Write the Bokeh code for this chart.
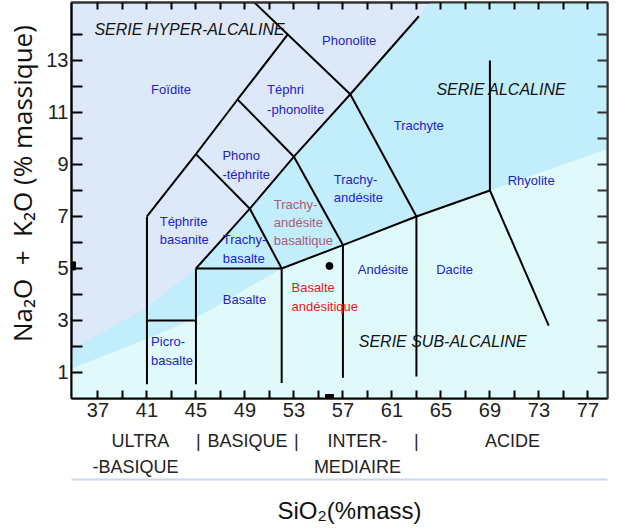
import math
from bokeh.plotting import figure
from bokeh.models import ColumnDataSource, LinearAxis, FixedTicker, Range1d
from bokeh.core.properties import value
from bokeh.embed import file_html
from bokeh.resources import INLINE

# ---------------- data ----------------
X_MIN, X_MAX = 34.84, 78.6
Y_MIN, Y_MAX = 0.0, 15.23

x_ticks = list(range(37, 78, 2))
x_tick_labels = {t: (str(t) if (t - 37) % 4 == 0 else "") for t in x_ticks}
y_ticks = list(range(1, 15))
y_tick_labels = {t: (str(t) if t % 2 == 1 else "") for t in y_ticks}

# TAS field boundaries (SiO2 %, Na2O+K2O %)
field_xs = [
    [41, 41], [41, 45, 48.4, 52.5], [48.9, 52.5, 57.6], [41, 45], [45, 45],
    [45, 49.4, 53, 57.6, 63.2], [45, 52, 57, 63, 69], [52, 52], [57, 57],
    [63, 63], [69, 69], [69, 73.8], [49.4, 52], [53, 57], [57.6, 63],
    [48.4, 53], [45, 49.4],
]
field_ys = [
    [0.55, 7], [7, 9.4, 11.5, 14], [15.62, 14, 11.7], [3, 3], [0.55, 5],
    [5, 7.3, 9.3, 11.7, 14.7], [5, 5, 5.9, 7, 8], [0.6, 5], [0.8, 5.9],
    [0.85, 7], [8, 13], [8, 2.8], [7.3, 5], [9.3, 5.9], [11.7, 7],
    [11.5, 9.3], [9.4, 7.3],
]

# series zones (background)
alcaline_x = [X_MIN, 41, 45, 49.4, 53, 57.6, 63.2, 64.5, X_MAX, X_MAX, X_MIN]
alcaline_y = [1.9, 3.5, 5, 7.3, 9.3, 11.7, 14.7, 15.4, 15.4, 0, 0]
subalc_x = [X_MIN, X_MIN, 41, 45, 52, 57, 63, 69, X_MAX, X_MAX]
subalc_y = [0, 1.15, 2.3, 3.1, 5, 5.9, 7, 8, 9.6, 0]

# rock names (lines of text) and their anchor points
rock_text = ["Foïdite", "Téphri", "-phonolite", "Phonolite", "Phono", "-téphrite",
             "Trachyte", "Trachy-", "andésite", "Rhyolite", "Téphrite", "basanite",
             "Trachy-", "basalte", "Basalte", "Andésite", "Dacite", "Picro-", "basalte"]
rock_x = [41.34, 50.81, 50.81, 55.3, 47.16, 47.16, 61.15, 56.25, 56.25, 70.45,
          42.04, 42.04, 47.19, 47.19, 47.19, 58.21, 64.61, 41.34, 41.34]
rock_y = [11.9, 11.9, 11.13, 13.75, 9.33, 8.63, 10.5, 8.42, 7.72, 8.4,
          6.8, 6.1, 6.1, 5.39, 3.82, 4.97, 4.97, 2.21, 1.47]

tab_text = ["Trachy-", "andésite", "basaltique"]
tab_x = [51.35, 51.35, 51.35]
tab_y = [7.47, 6.76, 6.06]

ba_text = ["Basalte", "andésitique"]
ba_x = [52.8, 52.8]
ba_y = [4.26, 3.53]

serie_text = ["SERIE HYPER-ALCALINE", "SERIE ALCALINE", "SERIE SUB-ALCALINE"]
serie_x = [36.71, 64.63, 58.29]
serie_y = [14.2, 11.9, 2.21]

# sample point
sample_sio2 = [55.9]
sample_alk = [5.1]

# silica classes under the axis (two rows)
class_row1_x = [40.47, 45.2, 49.2, 53.2, 58.18, 62.99, 70.84]
class_row1 = ["ULTRA", "|", "BASIQUE", "|", "INTER-", "|", "ACIDE"]
class_row2_x = [40.06, 58.18]
class_row2 = ["-BASIQUE", "MEDIAIRE"]

# ---------------- figure ----------------
p = figure(width=644, height=532, output_backend="svg", toolbar_location=None,
           x_range=Range1d(X_MIN, X_MAX), y_range=Range1d(Y_MIN, Y_MAX),
           x_axis_location=None, y_axis_location=None,
           min_border_left=71, min_border_right=37, min_border_top=2, min_border_bottom=134)
p.grid.visible = False
p.background_fill_color = "#dde8f8"
p.border_fill_color = "white"
p.outline_line_color = "#333333"
p.outline_line_width = 2

p.patch(alcaline_x, alcaline_y, fill_color="#c2edfb", line_color=None)
p.patch(subalc_x, subalc_y, fill_color="#e0fafb", line_color=None)

p.multi_line(field_xs, field_ys, line_color="black", line_width=2)

font = value("Liberation Sans")
src = ColumnDataSource(dict(x=rock_x, y=rock_y, t=rock_text))
p.text("x", "y", text="t", source=src, text_font=font, text_font_size="13px",
       text_color="#2323cc", text_align="left", text_baseline="middle")
src2 = ColumnDataSource(dict(x=tab_x, y=tab_y, t=tab_text))
p.text("x", "y", text="t", source=src2, text_font=font, text_font_size="13px",
       text_color="#b05a78", text_align="left", text_baseline="middle")
src3 = ColumnDataSource(dict(x=ba_x, y=ba_y, t=ba_text))
p.text("x", "y", text="t", source=src3, text_font=font, text_font_size="13px",
       text_color="#e01b1b", text_align="left", text_baseline="middle")
src4 = ColumnDataSource(dict(x=serie_x, y=serie_y, t=serie_text))
p.text("x", "y", text="t", source=src4, text_font=font, text_font_size="16px",
       text_font_style="italic", text_color="#111111", text_align="left", text_baseline="middle")

p.scatter(sample_sio2, sample_alk, size=7, color="black")
p.scatter(sample_sio2, [Y_MIN] * len(sample_sio2), marker="square", size=8, color="black")
p.scatter([X_MIN] * len(sample_alk), sample_alk, marker="square", size=8, color="black")

# axes
def mk_axis(ticks, overrides, size="20px", standoff=4):
    ax = LinearAxis(ticker=FixedTicker(ticks=ticks), major_label_overrides=overrides)
    ax.axis_line_color = "black"
    ax.axis_line_width = 2
    ax.major_tick_in = 9
    ax.major_tick_out = 0
    ax.major_tick_line_width = 2
    ax.major_tick_line_color = "black"
    ax.minor_tick_line_color = None
    ax.major_label_text_font = "Liberation Sans"
    ax.major_label_text_font_size = size
    ax.major_label_text_color = "#222222"
    ax.major_label_standoff = standoff
    return ax

bottom = mk_axis(x_ticks, x_tick_labels)
bottom.major_tick_in = 8
p.add_layout(bottom, "below")

row1 = mk_axis(class_row1_x, dict(zip(class_row1_x, class_row1)), size="18px", standoff=11)
row1.axis_line_color = None
row1.major_tick_line_color = None
row1.major_tick_in = 0
p.add_layout(row1, "below")

row2 = mk_axis(class_row2_x, dict(zip(class_row2_x, class_row2)), size="18px", standoff=3)
row2.axis_line_color = None
row2.major_tick_line_color = None
row2.major_tick_in = 0
p.add_layout(row2, "below")

title_ax = mk_axis([], {}, size="0px", standoff=0)
title_ax.axis_line_color = "#c9d7ef"
title_ax.axis_line_width = 2
title_ax.major_tick_line_color = None
title_ax.major_tick_in = 0
title_ax.axis_label = "\u00a0" * 3 + "SiO₂(%mass)"
title_ax.axis_label_text_font = "Liberation Sans"
title_ax.axis_label_text_font_size = "24px"
title_ax.axis_label_text_font_style = "normal"
title_ax.axis_label_text_color = "#111111"
title_ax.axis_label_standoff = 17
p.add_layout(title_ax, "below")

left = mk_axis(y_ticks, y_tick_labels)
left.major_tick_in = 11
left.major_label_standoff = 3
left.axis_label = "\u00a0" * 5 + "Na₂O\u00a0\u00a0+\u00a0\u00a0K₂O (% massique)"
left.axis_label_text_font = "Open Sans"
left.axis_label_text_font_size = "26px"
left.axis_label_text_font_style = "normal"
left.axis_label_text_color = "#111111"
left.axis_label_standoff = 3
p.add_layout(left, "left")

top = mk_axis(x_ticks, {t: "" for t in x_ticks}, size="0px", standoff=0)
top.major_tick_in = 7
top.axis_line_color = "#333333"
p.add_layout(top, "above")
right = mk_axis(y_ticks, {t: "" for t in y_ticks}, size="0px", standoff=0)
right.major_tick_in = 10
right.major_tick_line_color = "#333333"
right.axis_line_color = "#333333"
p.add_layout(right, "right")

open("out.html", "w").write(file_html(p, INLINE))
